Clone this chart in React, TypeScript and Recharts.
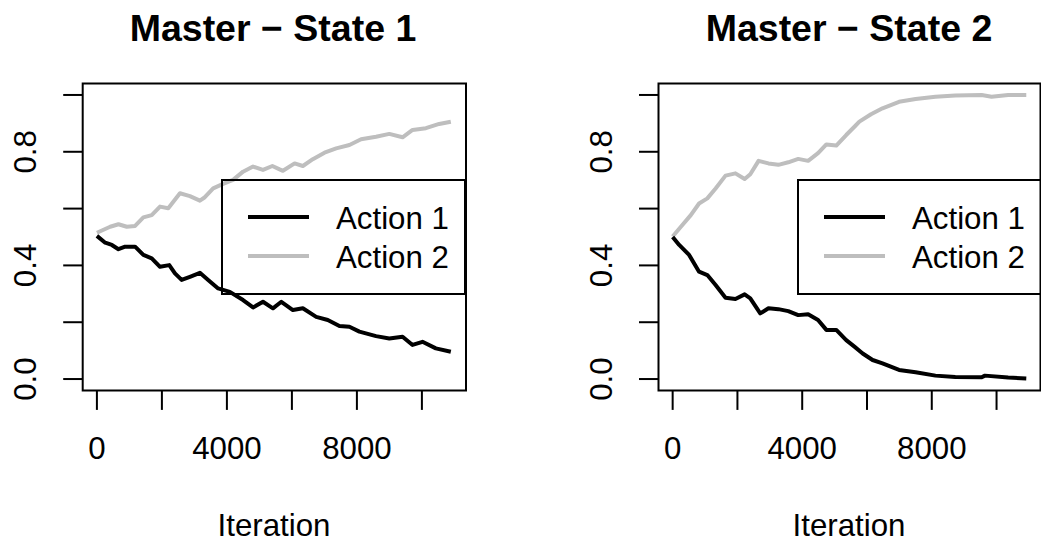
import { LineChart, Line, XAxis, YAxis, ReferenceArea, Legend } from 'recharts';

const FONT = '"Liberation Sans", Arial, Helvetica, sans-serif';

// Master – State 1
const s1Action1Iter = [0, 255, 460, 663, 868, 1175, 1430, 1687, 1942, 2227, 2402, 2607, 2862, 3169, 3423, 3730, 4089, 4497, 4804, 5110, 5417, 5675, 6031, 6337, 6748, 7104, 7463, 7770, 8077, 8589, 8997, 9405, 9712, 10018, 10429, 10890];
const s1Action1 = [0.504, 0.480, 0.472, 0.457, 0.466, 0.466, 0.437, 0.425, 0.395, 0.401, 0.372, 0.349, 0.360, 0.374, 0.349, 0.319, 0.307, 0.278, 0.252, 0.272, 0.249, 0.272, 0.243, 0.249, 0.219, 0.208, 0.187, 0.184, 0.167, 0.151, 0.143, 0.149, 0.120, 0.131, 0.108, 0.096];
const s1Action2Iter = [0, 408, 663, 920, 1175, 1430, 1687, 1942, 2196, 2555, 2862, 3169, 3322, 3577, 3883, 4190, 4497, 4804, 5110, 5399, 5623, 5724, 6083, 6337, 6644, 7003, 7362, 7770, 8129, 8589, 8997, 9405, 9712, 10123, 10531, 10890];
const s1Action2 = [0.515, 0.536, 0.545, 0.536, 0.539, 0.569, 0.577, 0.607, 0.601, 0.654, 0.644, 0.628, 0.640, 0.671, 0.687, 0.701, 0.730, 0.748, 0.736, 0.750, 0.738, 0.733, 0.759, 0.750, 0.774, 0.797, 0.812, 0.824, 0.844, 0.853, 0.863, 0.851, 0.877, 0.883, 0.898, 0.906];

// Master – State 2
const s2Action1Iter = [0, 202, 508, 815, 1071, 1326, 1632, 1938, 2223, 2397, 2704, 2958, 3264, 3570, 3877, 4183, 4489, 4746, 5052, 5358, 5612, 5867, 6173, 6479, 6990, 7502, 8114, 8726, 9541, 9643, 10358, 10918];
const s2Action1 = [0.500, 0.472, 0.437, 0.378, 0.366, 0.331, 0.286, 0.282, 0.298, 0.284, 0.231, 0.249, 0.246, 0.239, 0.225, 0.228, 0.208, 0.173, 0.173, 0.137, 0.114, 0.090, 0.067, 0.055, 0.032, 0.024, 0.012, 0.007, 0.006, 0.012, 0.005, 0.002];
const s2Action2Iter = [0, 254, 560, 815, 1071, 1326, 1632, 1938, 2223, 2397, 2652, 2958, 3264, 3570, 3877, 4183, 4489, 4746, 5052, 5358, 5612, 5765, 6124, 6479, 6990, 7502, 8114, 8726, 9541, 9847, 10358, 10918];
const s2Action2 = [0.502, 0.536, 0.577, 0.618, 0.636, 0.671, 0.716, 0.724, 0.704, 0.721, 0.768, 0.759, 0.754, 0.763, 0.775, 0.768, 0.795, 0.826, 0.822, 0.859, 0.888, 0.906, 0.932, 0.953, 0.976, 0.986, 0.994, 0.998, 1.000, 0.994, 1.000, 1.000];

const seriesNames = ['Action 1', 'Action 2'];
const seriesColors = ['#000000', '#bebebe'];
const titles = ['Master \u2212 State 1', 'Master \u2212 State 2'];
const xTitle = 'Iteration';
const xTicks = [0, 2000, 4000, 6000, 8000, 10000];
const xLabeled = [0, 4000, 8000];
const yTicks = [0, 0.2, 0.4, 0.6, 0.8, 1.0];
const yLabeled = [0, 0.4, 0.8];

const X_DOMAIN: [number, number] = [-437, 11357];
const Y_DOMAIN: [number, number] = [-0.04, 1.04];

const toRows = (iters: number[], vals: number[]) =>
  iters.map((it, i) => ({ iter: it, p: vals[i] }));

function XTick(props: any) {
  const v = props.payload.value;
  if (!xLabeled.includes(v)) return <g />;
  return (
    <text x={props.x} y={props.y + 22.4} textAnchor="middle" fontSize={31.25} fontFamily={FONT} fill="#000">
      {v}
    </text>
  );
}

function YTick(props: any) {
  const v = props.payload.value;
  if (!yLabeled.some((l) => Math.abs(l - v) < 1e-9)) return <g />;
  return (
    <text
      x={props.x}
      y={props.y}
      transform={`rotate(-90 ${props.x} ${props.y})`}
      textAnchor="middle"
      fontSize={31.25}
      fontFamily={FONT}
      fill="#000"
    >
      {v.toFixed(1)}
    </text>
  );
}

function LegendBox({ payload }: any) {
  const items = [...(payload ?? [])].sort((a: any, b: any) =>
    String(a.value).localeCompare(String(b.value))
  );
  return (
    <svg width={245} height={116} style={{ display: 'block', overflow: 'visible' }}>
      <rect x={1} y={1} width={243} height={114} fill="none" stroke="#000" strokeWidth={2} />
      {items.map((it: any, i: number) => (
        <g key={it.value}>
          <line x1={27} x2={88} y1={38 + i * 39} y2={38 + i * 39} stroke={it.color} strokeWidth={4} />
          <text x={115} y={49.5 + i * 39} fontSize={31.25} fontFamily={FONT} fill="#000">
            {it.value}
          </text>
        </g>
      ))}
    </svg>
  );
}

interface PanelProps {
  left: number;
  width: number;
  yAxisWidth: number;
  rightMargin: number;
  legendLeft: number;
  action1: { iter: number; p: number }[];
  action2: { iter: number; p: number }[];
}

function Panel({ left, width, yAxisWidth, rightMargin, legendLeft, action1, action2 }: PanelProps) {
  return (
    <div style={{ position: 'absolute', left, top: 0 }}>
      <LineChart width={width} height={544} margin={{ top: 83.6, right: rightMargin, bottom: 0, left: 0 }}>
        <XAxis
          dataKey="iter"
          type="number"
          domain={X_DOMAIN}
          allowDataOverflow
          ticks={xTicks}
          interval={0}
          height={153.6}
          axisLine={false}
          tickLine={{ stroke: '#000', strokeWidth: 2 }}
          tickSize={19.5}
          tickMargin={27}
          tick={<XTick />}
        />
        <YAxis
          type="number"
          domain={Y_DOMAIN}
          allowDataOverflow
          ticks={yTicks}
          interval={0}
          width={yAxisWidth}
          axisLine={false}
          tickLine={{ stroke: '#000', strokeWidth: 2 }}
          tickSize={19.5}
          tickMargin={27.2}
          tick={<YTick />}
        />
        <ReferenceArea
          x1={X_DOMAIN[0]}
          x2={X_DOMAIN[1]}
          y1={Y_DOMAIN[0]}
          y2={Y_DOMAIN[1]}
          fill="none"
          fillOpacity={0}
          stroke="#000"
          strokeWidth={2}
        />
        <Line
          data={action2}
          dataKey="p"
          name={seriesNames[1]}
          type="linear"
          stroke={seriesColors[1]}
          strokeWidth={4}
          strokeLinejoin="round"
          dot={false}
          isAnimationActive={false}
        />
        <Line
          data={action1}
          dataKey="p"
          name={seriesNames[0]}
          type="linear"
          stroke={seriesColors[0]}
          strokeWidth={4}
          strokeLinejoin="round"
          dot={false}
          isAnimationActive={false}
        />
        <Legend
          layout="horizontal"
          verticalAlign="middle"
          align="center"
          content={<LegendBox />}
          wrapperStyle={{ position: 'absolute', left: legendLeft, top: 179, width: 245, height: 116 }}
        />
      </LineChart>
    </div>
  );
}

export default function App() {
  return (
    <div style={{ position: 'fixed', left: 0, top: 0, width: 1041, height: 544, background: '#fff', overflow: 'hidden' }}>
      <Panel
        left={0}
        width={520}
        yAxisWidth={82.7}
        rightMargin={54}
        legendLeft={221}
        action1={toRows(s1Action1Iter, s1Action1)}
        action2={toRows(s1Action2Iter, s1Action2)}
      />
      <Panel
        left={520}
        width={521}
        yAxisWidth={138.5}
        rightMargin={0.5}
        legendLeft={276.7}
        action1={toRows(s2Action1Iter, s2Action1)}
        action2={toRows(s2Action2Iter, s2Action2)}
      />
      <svg width={1041} height={544} style={{ position: 'absolute', left: 0, top: 0, pointerEvents: 'none' }}>
        <text x={273} y={40.7} textAnchor="middle" fontSize={37.5} fontWeight="bold" fontFamily={FONT} fill="#000">
          {titles[0]}
        </text>
        <text x={849} y={40.7} textAnchor="middle" fontSize={37.5} fontWeight="bold" fontFamily={FONT} fill="#000">
          {titles[1]}
        </text>
        <text x={274} y={536} textAnchor="middle" fontSize={31.25} fontFamily={FONT} fill="#000">
          {xTitle}
        </text>
        <text x={849} y={536} textAnchor="middle" fontSize={31.25} fontFamily={FONT} fill="#000">
          {xTitle}
        </text>
      </svg>
    </div>
  );
}
